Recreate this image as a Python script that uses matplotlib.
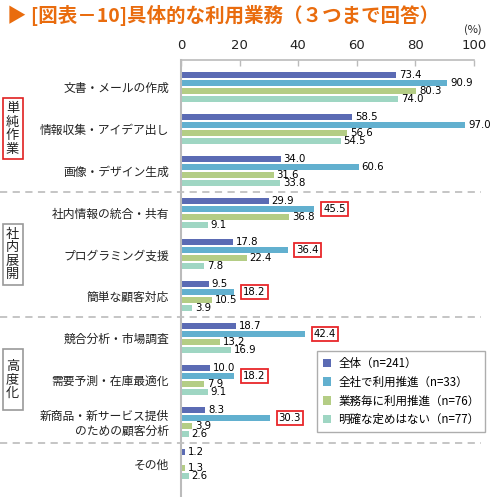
import numpy as np
import matplotlib
matplotlib.use('Agg')
import matplotlib.pyplot as plt
import matplotlib.transforms as mtransforms
from matplotlib.patches import Rectangle, Patch
from matplotlib.lines import Line2D

plt.rcParams['font.family'] = ['Noto Sans CJK JP', 'DejaVu Sans']

categories = ['文書・メールの作成', '情報収集・アイデア出し', '画像・デザイン生成',
              '社内情報の統合・共有', 'プログラミング支援', '簡単な顧客対応',
              '競合分析・市場調査', '需要予測・在庫最適化',
              '新商品・新サービス提供\nのための顧客分析', 'その他']
overall = [73.4, 58.5, 34.0, 29.9, 17.8, 9.5, 18.7, 10.0, 8.3, 1.2]
company_wide = [90.9, 97.0, 60.6, 45.5, 36.4, 18.2, 42.4, 18.2, 30.3, np.nan]
per_task = [80.3, 56.6, 31.6, 36.8, 22.4, 10.5, 13.2, 7.9, 3.9, 1.3]
undefined = [74.0, 54.5, 33.8, 9.1, 7.8, 3.9, 16.9, 9.1, 2.6, 2.6]
series_names = ['全体（n=241）', '全社で利用推進（n=33）', '業務毎に利用推進（n=76）', '明確な定めはない（n=77）']
colors = ['#5b6bb4', '#62b0cf', '#b4cd85', '#9fd6c3']
highlight = [3, 4, 5, 6, 7, 8]  # company_wide values boxed in red
groups = [('単純作業', 0, 2, '#e02020'), ('社内展開', 3, 5, '#999999'), ('高度化', 6, 8, '#999999')]

series = [overall, company_wide, per_task, undefined]

fig = plt.figure(figsize=(5.0, 4.97), dpi=100)
ax = fig.add_axes([0.362, 0.0, 0.586, 0.8793])

ypos = np.arange(len(categories))
step = 0.191
offsets = [-1.5 * step, -0.5 * step, 0.5 * step, 1.5 * step]
for k, vals in enumerate(series):
    for i, v in enumerate(vals):
        if np.isnan(v):
            continue
        ax.barh(ypos[i] + offsets[k], v, height=0.143, color=colors[k])
        if k == 1 and i in highlight:
            ax.text(v + 3.0, ypos[i] + offsets[k], f'{v:.1f}', va='center', ha='left',
                    fontsize=7.3, family='DejaVu Sans', clip_on=False,
                    bbox=dict(boxstyle='square,pad=0.2', fc='white', ec='#e8262a', lw=1.3))
        else:
            ax.text(v + 1.0, ypos[i] + offsets[k], f'{v:.1f}', va='center', ha='left',
                    fontsize=7.3, family='DejaVu Sans', clip_on=False)

ax.set_xlim(0, 100)
ax.set_ylim(9.797, -0.645)
ax.xaxis.tick_top()
ax.set_xticks([0, 20, 40, 60, 80, 100])
ax.set_xticklabels(['0', '20', '40', '60', '80', '100'], family='DejaVu Sans')
ax.tick_params(axis='x', direction='in', length=4, width=1, color='#bbbbbb',
               labelsize=9.5, pad=6, labelcolor='#222222')
ax.set_yticks(ypos)
ax.set_yticklabels(categories, fontsize=8.5, color='#222222')
ax.tick_params(axis='y', length=0, pad=8.5)
for s in ['bottom', 'right']:
    ax.spines[s].set_visible(False)
ax.spines['top'].set_color('#bbbbbb')
ax.spines['top'].set_linewidth(1.2)
ax.spines['left'].set_color('#bbbbbb')
ax.spines['left'].set_linewidth(1.5)

# dashed separators between the groups
blend = mtransforms.blended_transform_factory(fig.transFigure, ax.transData)
for y in [2.5, 5.5, 8.5]:
    fig.add_artist(Line2D([0.0, 0.962], [y, y], transform=blend, color='#c0c0c0',
                          lw=1.3, ls=(0, (4, 3))))

# group label boxes
for name, g0, g1, ec in groups:
    mid = (g0 + g1) / 2
    fig.add_artist(Rectangle((0.005, mid - 0.73), 0.04, 1.46, transform=blend,
                             fill=False, ec=ec, lw=1.2))
    fig.text(0.025, mid, '\n'.join(name), transform=blend, ha='center', va='center',
             fontsize=9.5, linespacing=1.05, color='#222222')

handles = [Patch(facecolor=c, edgecolor='none') for c in colors]
leg = ax.legend(handles, series_names, loc='upper left', bbox_to_anchor=(0.464, 0.334),
                fontsize=8.3, frameon=True, fancybox=False, handlelength=0.75,
                handleheight=0.75, handletextpad=0.6, labelspacing=0.5,
                borderpad=0.5, borderaxespad=0)
leg.get_frame().set_edgecolor('#999999')
leg.get_frame().set_linewidth(1.0)

fig.text(0.964, 1 - 30 / 497, '(%)', ha='right', va='center', fontsize=8, color='#222222')
fig.text(0.014, 1 - 15 / 497, '▶ [図表－10]具体的な利用業務（３つまで回答）', ha='left', va='center',
         fontsize=14, fontweight='bold', color='#e96c0e')

fig.savefig('out.png', dpi=100)
